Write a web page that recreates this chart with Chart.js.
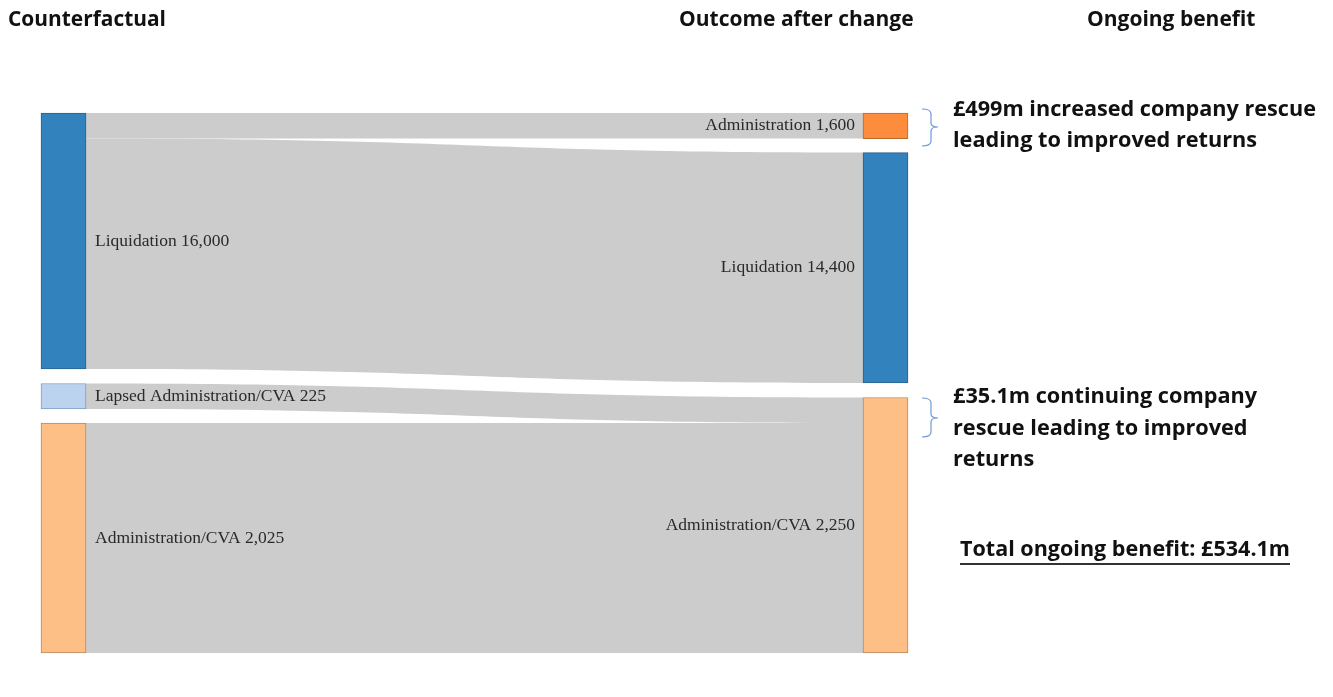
<!DOCTYPE html>
<html>
<head>
<meta charset="utf-8">
<script src="https://cdn.jsdelivr.net/npm/chart.js@4.4.0/dist/chart.umd.min.js"></script>
<style>
  html, body { margin: 0; padding: 0; background: #fff; }
  #wrap { width: 1333px; height: 697px; position: relative; }
</style>
</head>
<body>
<div id="wrap"><canvas id="c"></canvas></div>
<script>
// ---- data ----
const columns = ['Counterfactual', 'Outcome after change'];
const nodeNames = ['Liquidation', 'Lapsed Administration/CVA', 'Administration/CVA', 'Administration', 'Liquidation', 'Administration/CVA'];
const nodeValues = [16000, 225, 2025, 1600, 14400, 2250];
const nodeColumn = [0, 0, 0, 1, 1, 1];
const nodeGroup = ['yLiq', 'yAdm', 'yAdm', 'yLiq', 'yLiq', 'yAdm'];
const nodeColors = ['#3182bd', '#bcd3ef', '#fdbf86', '#fd8d3c', '#3182bd', '#fdbf86'];
const nodeBorders = ['#2b628c', '#7f9cc0', '#b88a5e', '#b8692c', '#2b628c', '#b88a5e'];
const linkSource = [0, 0, 1, 2];
const linkTarget = [3, 4, 5, 5];
const linkValues = [1600, 14400, 225, 2025];

const headers = ['Counterfactual', 'Outcome after change', 'Ongoing benefit'];
const note1 = ['£499m increased company rescue', 'leading to improved returns'];
const note2 = ['£35.1m continuing company', 'rescue leading to improved', 'returns'];
const totalNote = 'Total ongoing benefit: £534.1m';

// ---- layout ----
const PLOT_TOP = 113, PLOT_BOTTOM = 653;
const NODE_GAP = 14;       // px between stacked nodes
const LINK_COLOR = '#cccccc';
const scaleMax = { yLiq: 33750, yAdm: 4755 };
const scaleReverse = { yLiq: true, yAdm: false };

// stack nodes of each column/group; liquidation group from the top, administration group from the bottom
function nodeRanges() {
    const ranges = [];
    const order = nodeValues.map((v, i) => i);
    ['yLiq', 'yAdm'].forEach(g => {
        const gapUnits = NODE_GAP * scaleMax[g] / (PLOT_BOTTOM - PLOT_TOP);
        [0, 1].forEach(col => {
            let ids = order.filter(i => nodeGroup[i] === g && nodeColumn[i] === col);
            if (!scaleReverse[g]) ids = ids.reverse();
            let cur = 0;
            ids.forEach(i => {
                ranges[i] = [cur, cur + nodeValues[i]];
                cur += nodeValues[i] + gapUnits;
            });
        });
    });
    return ranges;
}

const ranges = nodeRanges();
const datasets = nodeNames.map((name, i) => ({
    label: name,
    data: nodeColumn[i] === 0 ? [ranges[i], null] : [null, ranges[i]],
    yAxisID: nodeGroup[i],
    backgroundColor: nodeColors[i],
    borderColor: nodeBorders[i],
    borderWidth: 1,
    borderSkipped: false,
    barThickness: 45,
    grouped: false,
    clip: false
}));

function nodeBox(chart, i) {
    const el = chart.getDatasetMeta(i).data[nodeColumn[i]];
    return {
        left: el.x - el.width / 2,
        right: el.x + el.width / 2,
        top: Math.min(el.y, el.base),
        bottom: Math.max(el.y, el.base)
    };
}

const linksPlugin = {
    id: 'links',
    beforeDatasetsDraw(chart) {
        const ctx = chart.ctx;
        const outOff = nodeValues.map(() => 0);
        const inOff = nodeValues.map(() => 0);
        ctx.save();
        ctx.fillStyle = LINK_COLOR;
        linkValues.forEach((v, k) => {
            const s = linkSource[k], t = linkTarget[k];
            const a = nodeBox(chart, s), b = nodeBox(chart, t);
            const hs = v * (a.bottom - a.top) / nodeValues[s];
            const ht = v * (b.bottom - b.top) / nodeValues[t];
            const y0 = a.top + outOff[s], y1 = b.top + inOff[t];
            outOff[s] += hs;
            inOff[t] += ht;
            const x0 = a.right, x1 = b.left, xm = (x0 + x1) / 2;
            ctx.beginPath();
            ctx.moveTo(x0, y0);
            ctx.bezierCurveTo(xm, y0, xm, y1, x1, y1);
            ctx.lineTo(x1, y1 + ht);
            ctx.bezierCurveTo(xm, y1 + ht, xm, y0 + hs, x0, y0 + hs);
            ctx.closePath();
            ctx.fill();
        });
        ctx.restore();
    },
    afterDatasetsDraw(chart) {
        const ctx = chart.ctx;
        ctx.save();
        ctx.font = '17.5px "Liberation Serif", "Times New Roman", serif';
        ctx.fillStyle = '#2a2a2a';
        ctx.textBaseline = 'middle';
        nodeNames.forEach((name, i) => {
            const b = nodeBox(chart, i);
            const txt = name + ' ' + nodeValues[i].toLocaleString('en-GB');
            const y = (b.top + b.bottom) / 2;
            if (nodeColumn[i] === 0) {
                ctx.textAlign = 'left';
                ctx.fillText(txt, b.right + 9, y);
            } else {
                ctx.textAlign = 'right';
                ctx.fillText(txt, b.left - 8, y);
            }
        });
        ctx.restore();
    }
};

function bracket(ctx, x, top, bottom, mid) {
    ctx.beginPath();
    ctx.moveTo(x, top);
    ctx.quadraticCurveTo(x + 9, top, x + 9, top + 5);
    ctx.lineTo(x + 9, mid - 4);
    ctx.quadraticCurveTo(x + 9, mid, x + 16, mid);
    ctx.quadraticCurveTo(x + 9, mid, x + 9, mid + 4);
    ctx.lineTo(x + 9, bottom - 5);
    ctx.quadraticCurveTo(x + 9, bottom, x, bottom);
    ctx.stroke();
}

const notesPlugin = {
    id: 'notes',
    afterDraw(chart) {
        const ctx = chart.ctx;
        ctx.save();
        ctx.fillStyle = '#111';
        ctx.textBaseline = 'middle';
        ctx.textAlign = 'left';
        ctx.font = 'bold 21px "Open Sans", sans-serif';
        ctx.fillText(headers[0], 8, 20, 158);
        ctx.fillText(headers[1], 679, 20, 237);
        ctx.fillText(headers[2], 1087, 20, 170);

        ctx.font = 'bold 21.7px "Open Sans", sans-serif';
        note1.forEach((t, i) => ctx.fillText(t, 953, 110 + i * 31, 363));
        note2.forEach((t, i) => ctx.fillText(t, 953, 397 + i * 31.5, 305));
        ctx.fillText(totalNote, 960, 550, 330);
        const w = Math.min(ctx.measureText(totalNote).width, 330);
        ctx.fillStyle = '#333';
        ctx.fillRect(960, 563, w, 2);

        ctx.strokeStyle = '#6d9bd6';
        ctx.lineWidth = 1.2;
        bracket(ctx, 922, 109, 146, 127);
        bracket(ctx, 922, 398, 437, 418);
        ctx.restore();
    }
};

new Chart(document.getElementById('c'), {
    type: 'bar',
    data: { labels: columns, datasets: datasets },
    options: {
        responsive: true,
        maintainAspectRatio: false,
        animation: false,
        events: [],
        layout: {
            padding: { top: PLOT_TOP, bottom: 697 - PLOT_BOTTOM, left: 63.5, right: 1333 - 885.5 }
        },
        plugins: { legend: { display: false }, tooltip: { enabled: false } },
        scales: {
            x: { type: 'category', offset: false, display: false },
            yLiq: { type: 'linear', min: 0, max: scaleMax.yLiq, reverse: scaleReverse.yLiq, display: false },
            yAdm: { type: 'linear', min: 0, max: scaleMax.yAdm, reverse: scaleReverse.yAdm, display: false }
        }
    },
    plugins: [linksPlugin, notesPlugin]
});
</script>
</body>
</html>
